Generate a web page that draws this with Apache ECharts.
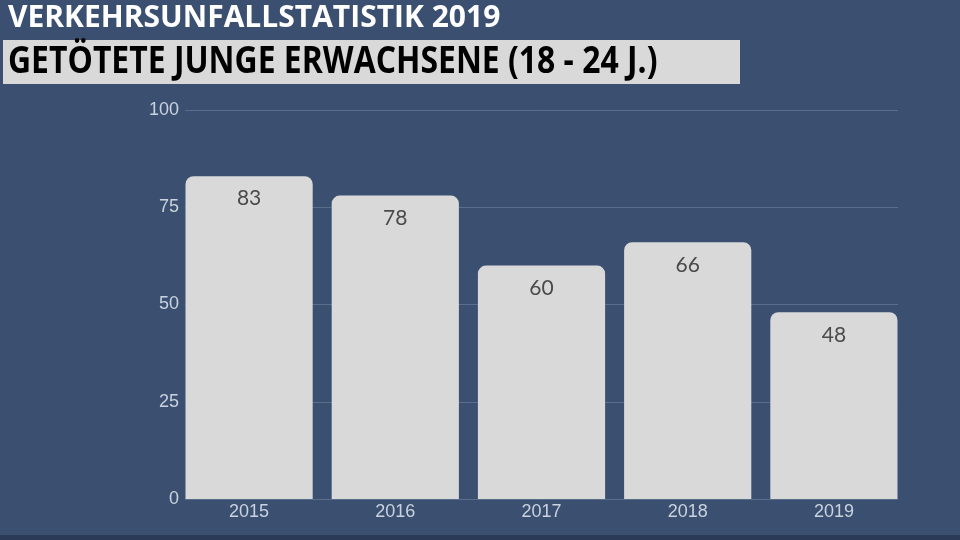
<!DOCTYPE html>
<html><head><meta charset="utf-8">
<script src="https://cdn.jsdelivr.net/npm/echarts@6/dist/echarts.min.js"></script>
<style>html,body{margin:0;padding:0;background:#3b5070;}#c{width:960px;height:540px;}</style>
</head><body><div id="c"></div>
<script>
const categories = ['2015','2016','2017','2018','2019'];
const values = [83, 78, 60, 66, 48];
const yTicks = [0, 25, 50, 75, 100];
const titleText = 'VERKEHRSUNFALLSTATISTIK 2019';
const subtitleText = 'GETÖTETE JUNGE ERWACHSENE (18 - 24 J.)';

const chart = echarts.init(document.getElementById('c'));
chart.setOption({
  backgroundColor: '#3b5070',
  animation: false,
  graphic: [
    {type:'rect', shape:{x:3,y:40,width:737,height:44}, style:{fill:'#d9d9d9'}},
    {type:'rect', shape:{x:0,y:535,width:960,height:5}, style:{fill:'#2b3b57'}},
    {type:'text', x:8, y:3, style:{text:titleText, fill:'#ffffff', font:'bold 30px "Open Sans", sans-serif', verticalAlign:'top'}},
    {type:'text', x:8, y:43, scaleX:0.84, style:{text:subtitleText, fill:'#000000', font:'bold 38px "Open Sans", sans-serif', verticalAlign:'top'}}
  ],
  grid: [
    {left:176, right:53, top:110, bottom:41},
    {left:185, right:62, top:110, bottom:41}
  ],
  xAxis: [
    {type:'category', data: categories, gridIndex:0,
     axisLine:{show:false}, axisTick:{show:false},
     axisLabel:{color:'#c9d2de', fontSize:18, margin:4, fontFamily:'Liberation Sans, Arial, sans-serif'}},
    {type:'value', gridIndex:1, show:false, min:0, max:1}
  ],
  yAxis: [
    {type:'value', gridIndex:0, min:0, max:100, interval:25, show:false},
    {type:'value', gridIndex:1, min:0, max:100, interval:25,
     axisLine:{show:false}, axisTick:{show:false},
     axisLabel:{color:'#c9d2de', fontSize:18, margin:6, fontFamily:'Liberation Sans, Arial, sans-serif',
       formatter: v => yTicks.includes(v) ? String(v) : ''},
     splitLine:{lineStyle:{color:'#5a6d8b', width:1}}}
  ],
  series: [{
    type:'bar', data: values, barCategoryGap:'13%', xAxisIndex:0, yAxisIndex:0,
    itemStyle:{color:'#d9d9d9', borderRadius:[8,8,0,0]},
    label:{show:true, position:'insideTop', distance:12, color:'#4a4a4a', fontSize:21, fontFamily:'Lato, "Open Sans", sans-serif'}
  }]
});
</script></body></html>
